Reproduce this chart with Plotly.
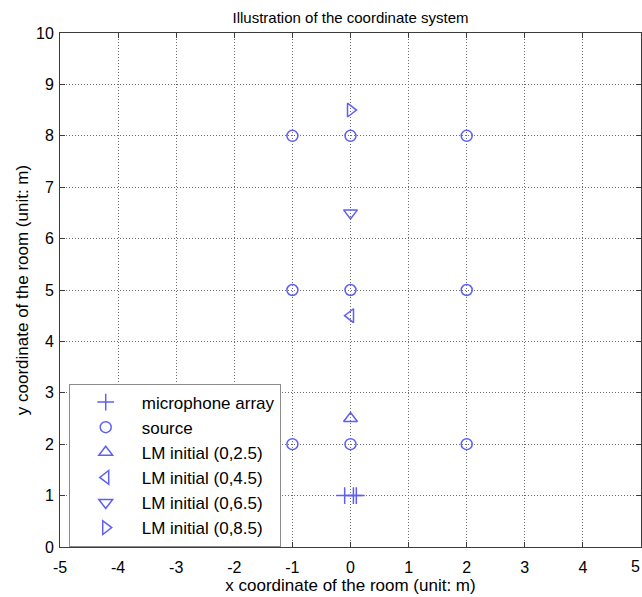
import plotly.graph_objects as go

mic_x = [-0.1, 0.05, 0.1]
mic_y = [1, 1, 1]
src_x = [-1, 0, 2, -1, 0, 2, -1, 0, 2]
src_y = [2, 2, 2, 5, 5, 5, 8, 8, 8]
lm_names = ["LM initial (0,2.5)", "LM initial (0,4.5)", "LM initial (0,6.5)", "LM initial (0,8.5)"]
lm_x = [0, 0, 0, 0]
lm_y = [2.5, 4.5, 6.5, 8.5]
lm_symbols = ["triangle-up-open", "triangle-left-open", "triangle-down-open", "triangle-right-open"]
x_ticks = [-5, -4, -3, -2, -1, 0, 1, 2, 3, 4]
y_ticks = list(range(0, 11))

col = "rgb(95,95,245)"
FONT = "Liberation Sans, Arial, sans-serif"

fig = go.Figure()
fig.add_trace(go.Scatter(x=mic_x, y=mic_y, mode="markers", name="microphone array",
                         marker=dict(symbol="cross-thin-open", size=12, color=col, line=dict(width=1.5, color=col))))
fig.add_trace(go.Scatter(x=src_x, y=src_y, mode="markers", name="source",
                         marker=dict(symbol="circle-open", size=11, color=col, line=dict(width=1.5, color=col))))
for n, x, y, s in zip(lm_names, lm_x, lm_y, lm_symbols):
    fig.add_trace(go.Scatter(x=[x], y=[y], mode="markers", name=n,
                             marker=dict(symbol=s, size=12, color=col, line=dict(width=1.5, color=col))))

axis_common = dict(
    showgrid=True, gridcolor="rgb(110,110,110)", griddash="1px,2px", gridwidth=1,
    zeroline=False, showline=True, linecolor="rgb(60,60,60)", linewidth=1, mirror="ticks",
    ticks="inside", ticklen=5, tickcolor="rgb(60,60,60)",
    tickfont=dict(family=FONT, size=16, color="black"),
)

fig.update_layout(
    width=642, height=597,
    margin=dict(l=60, r=1, t=33, b=50),
    paper_bgcolor="white", plot_bgcolor="white",
    font=dict(family=FONT, color="black"),
    title=dict(text="Illustration of the coordinate system", x=0.5, xref="paper", xanchor="center",
               y=0.971, yanchor="middle", font=dict(family=FONT, size=15, color="black")),
    xaxis=dict(range=[-5, 5], tickvals=x_ticks, ticktext=[str(v) for v in x_ticks], ticklabelstandoff=6,
               title=dict(text="x coordinate of the room (unit: m)", font=dict(size=17), standoff=2),
               **axis_common),
    yaxis=dict(range=[0, 10], tickvals=y_ticks, ticktext=[str(v) for v in y_ticks], ticklabelstandoff=2,
               title=dict(text="y coordinate of the room (unit: m)", font=dict(size=17), standoff=3),
               **axis_common),
    legend=dict(x=0.015, y=0.318, xanchor="left", yanchor="top", bgcolor="white",
                bordercolor="rgb(140,140,140)", borderwidth=1,
                font=dict(family=FONT, size=17, color="black"), itemwidth=62, tracegroupgap=0),
)

fig.add_annotation(x=5, y=0, xref="x", yref="y", text="5", showarrow=False,
                   xanchor="right", yanchor="top", yshift=-9, xshift=1,
                   font=dict(family=FONT, size=16, color="black"))

fig.write_html("out.html")
